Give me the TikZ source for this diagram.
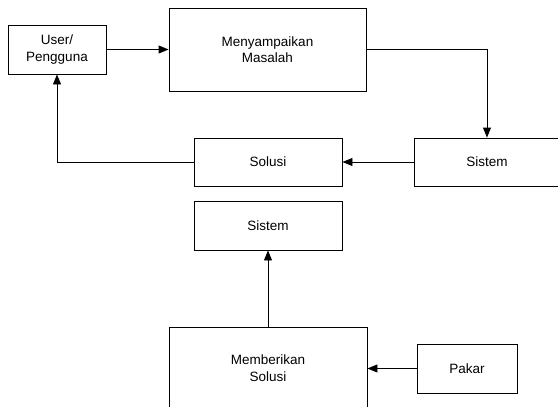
\documentclass[tikz,border=0pt]{standalone}
\usepackage{fontspec}
\setmainfont{Liberation Sans}
\usetikzlibrary{arrows.meta}
\begin{document}
\begin{tikzpicture}[x=1pt,y=-1pt,
  box/.style={draw=black,line width=0.9pt,rectangle,align=center,inner sep=0pt,
    font=\fontsize{13.5}{16.5}\selectfont},
  conn/.style={line width=0.9pt,-{Triangle[length=10pt,width=8pt]}}]
\useasboundingbox (0,0) rectangle (558,407);
\node[box,minimum width=98pt,minimum height=49pt] (user) at (57,49.5) {User/\\Pengguna};
\node[box,minimum width=197pt,minimum height=83pt] (masalah) at (267.5,49.5) {Menyampaikan\\Masalah};
\node[box,minimum width=146pt,minimum height=48pt] (sisR) at (487,162) {Sistem};
\node[box,minimum width=148pt,minimum height=48pt] (solusi) at (268,162) {Solusi};
\node[box,minimum width=148pt,minimum height=49pt] (sisM) at (268,225.5) {Sistem};
\node[box,minimum width=198pt,minimum height=82pt] (beri) at (268,368) {Memberikan\\Solusi};
\node[box,minimum width=100pt,minimum height=49pt] (pakar) at (467,368.5) {Pakar};
\draw[conn] (user.east) -- (masalah.west);
\draw[conn] (masalah.east) -| (sisR.north);
\draw[conn] (sisR.west) -- (solusi.east);
\draw[conn] (solusi.west) -| (user.south);
\draw[conn] (beri.north) -- (sisM.south);
\draw[conn] (pakar.west) -- (pakar.west -| beri.east);
\end{tikzpicture}
\end{document}
